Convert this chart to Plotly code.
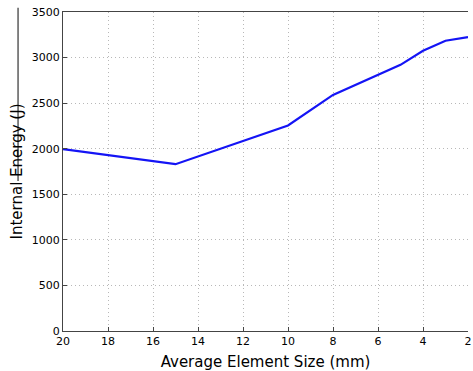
import plotly.graph_objects as go

element_size = [20, 15, 10, 8, 5, 4, 3, 2]
internal_energy = [1995, 1830, 2255, 2590, 2920, 3075, 3185, 3225]
x_ticks = [20, 18, 16, 14, 12, 10, 8, 6, 4, 2]
y_ticks = [0, 500, 1000, 1500, 2000, 2500, 3000, 3500]

fig = go.Figure()
fig.add_trace(go.Scatter(x=element_size, y=internal_energy, mode="lines",
                         line=dict(color="#1414f5", width=2.2)))

font = "DejaVu Sans, sans-serif"
grid = dict(showgrid=True, gridcolor="#b8b8b8", griddash="1px,3px", gridwidth=1)
fig.update_layout(
    width=473, height=371,
    margin=dict(l=63, r=1, t=12, b=40),
    paper_bgcolor="white", plot_bgcolor="white",
    showlegend=False,
    font=dict(family=font, color="black"),
    xaxis=dict(range=[20, 2], tickvals=x_ticks, ticktext=[str(v) for v in x_ticks],
               **grid, ticklabeloverflow="allow",
               showline=True, linecolor="#444", linewidth=1, mirror=True,
               ticks="inside", ticklen=4, tickcolor="#444",
               tickfont=dict(size=11, family=font), zeroline=False,
               title=dict(text="Average Element Size (mm)", font=dict(size=15, family=font), standoff=9)),
    yaxis=dict(range=[0, 3500], tickvals=y_ticks, ticktext=[str(v) for v in y_ticks],
               **grid,
               showline=True, linecolor="#444", linewidth=1,
               ticks="inside", ticklen=4, tickcolor="#444",
               tickfont=dict(size=11, family=font), zeroline=False,
               title=dict(text="Internal Energy (J)", font=dict(size=15, family=font), standoff=5)),
)
fig.add_shape(type="line", xref="paper", yref="paper", x0=-0.111, x1=-0.111,
              y0=1.013, y1=0.47, line=dict(color="#333", width=1.2))
fig.write_html("out.html")
